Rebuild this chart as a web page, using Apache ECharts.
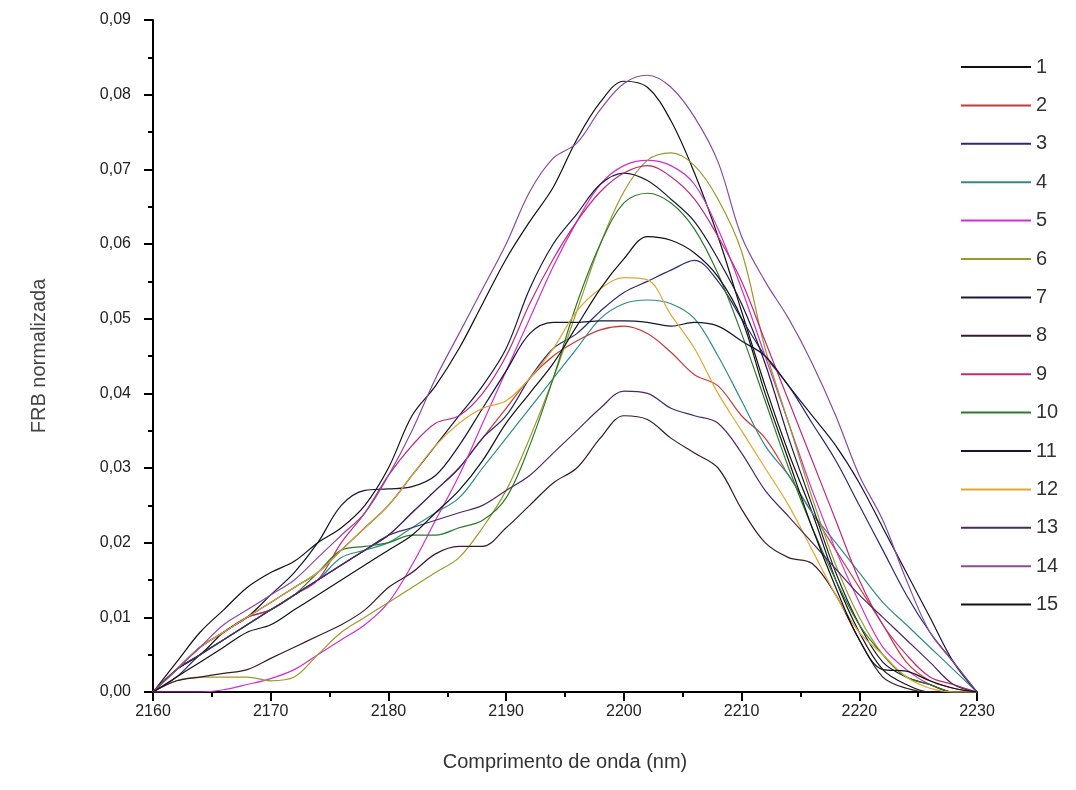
<!DOCTYPE html>
<html>
<head>
<meta charset="utf-8">
<script src="https://cdn.jsdelivr.net/npm/echarts@6/dist/echarts.min.js"></script>
<style>html,body{margin:0;padding:0;background:#fff;}#c{width:1076px;height:790px;}</style>
</head>
<body>
<div id="c"></div>
<script>
// Wavelength (nm), every 2 nm
const wavelengths = [2160,2162,2164,2166,2168,2170,2172,2174,2176,2178,2180,2182,2184,2186,2188,2190,2192,2194,2196,2198,2200,2202,2204,2206,2208,2210,2212,2214,2216,2218,2220,2222,2224,2226,2228,2230];

const seriesNames = ['1','2','3','4','5','6','7','8','9','10','11','12','13','14','15'];

const s1  = [0,.004,.008,.011,.014,.016,.0175,.020,.022,.025,.030,.037,.041,.046,.052,.058,.063,.0676,.074,.079,.0818,.081,.0765,.0695,.061,.051,.041,.032,.024,.015,.008,.003,.001,0,0,0];
const s2  = [0,.003,.006,.008,.010,.011,.013,.015,.017,.019,.021,.024,.027,.030,.034,.038,.042,.045,.047,.0485,.049,.048,.0455,.0425,.041,.037,.034,.029,.024,.019,.014,.009,.004,.0015,.0005,0];
const s3  = [0,.002,.005,.007,.009,.011,.013,.015,.017,.019,.021,.024,.027,.030,.034,.037,.042,.046,.048,.051,.0535,.055,.0565,.0578,.055,.050,.045,.041,.036,.031,.025,.019,.013,.008,.004,0];
const s4  = [0,.003,.005,.007,.009,.011,.013,.015,.018,.019,.020,.022,.024,.026,.030,.034,.038,.042,.046,.050,.052,.0525,.052,.050,.045,.039,.033,.029,.024,.020,.016,.012,.009,.006,.003,0];
const s5  = [0,0,0,.0003,.001,.0018,.003,.005,.007,.009,.012,.017,.023,.029,.036,.043,.050,.057,.063,.068,.0705,.0712,.0705,.068,.062,.054,.045,.036,.027,.019,.012,.006,.003,.001,0,0];
const s6  = [0,.0015,.002,.002,.002,.0015,.002,.005,.008,.010,.012,.014,.016,.018,.022,.027,.034,.042,.051,.060,.067,.0712,.0722,.0705,.066,.059,.046,.036,.026,.017,.010,.005,.002,.001,0,0];
const s7  = [0,.003,.006,.008,.010,.012,.014,.016,.019,.022,.025,.029,.033,.037,.041,.046,.054,.060,.064,.068,.0695,.0685,.066,.063,.058,.052,.044,.034,.025,.016,.009,.004,.002,.001,0,0];
const s8  = [0,.0015,.002,.0025,.003,.0045,.006,.0075,.009,.011,.014,.016,.0185,.0195,.0195,.022,.025,.028,.030,.034,.037,.0365,.034,.032,.030,.0245,.020,.018,.0172,.013,.007,.002,.0005,0,0,0];
const s9  = [0,.003,.006,.008,.010,.011,.013,.015,.020,.024,.029,.033,.036,.037,.040,.045,.052,.058,.063,.067,.0695,.0705,.069,.066,.061,.055,.047,.039,.031,.023,.015,.009,.005,.002,.001,0];
const s10 = [0,.003,.005,.007,.009,.011,.013,.016,.019,.0195,.020,.021,.021,.022,.023,.026,.033,.042,.052,.060,.0655,.0668,.0655,.062,.056,.048,.039,.030,.022,.015,.009,.005,.002,.001,0,0];
const s11 = [0,.003,.005,.008,.010,.013,.016,.020,.025,.027,.0272,.0275,.029,.033,.038,.043,.048,.0495,.0495,.0497,.0497,.0495,.049,.0495,.049,.047,.045,.041,.037,.033,.028,.022,.016,.010,.004,0];
const s12 = [0,.003,.006,.008,.010,.012,.014,.016,.019,.022,.025,.029,.033,.036,.038,.039,.042,.046,.051,.054,.0555,.0552,.0505,.046,.040,.035,.030,.025,.019,.013,.008,.005,.002,.0005,0,0];
const s13 = [0,.003,.005,.007,.009,.011,.013,.015,.017,.019,.021,.022,.023,.024,.025,.027,.029,.032,.035,.038,.0403,.040,.038,.037,.036,.032,.027,.0235,.020,.0165,.013,.010,.007,.004,.001,0];
const s14 = [0,.003,.006,.009,.011,.013,.015,.018,.021,.024,.029,.035,.042,.048,.054,.060,.067,.0715,.0735,.078,.0815,.0826,.081,.077,.071,.061,.055,.050,.044,.037,.029,.023,.015,.008,.004,0];
const s15 = [0,.002,.004,.006,.008,.009,.011,.013,.015,.017,.019,.021,.024,.027,.031,.036,.040,.044,.049,.054,.058,.061,.0605,.0588,.0556,.050,.040,.031,.022,.014,.007,.003,.0028,.0015,.0005,0];

const allValues = [s1,s2,s3,s4,s5,s6,s7,s8,s9,s10,s11,s12,s13,s14,s15];
const colors = ['#111111','#c83a3a','#2a2a7a','#2e8b8b','#d030d0','#9a9a2a','#1a1a3a','#3a1a2a','#c02a7a','#2a7a2a','#151535','#e0a830','#4a2a60','#8a4aa0','#111111'];

const chart = echarts.init(document.getElementById('c'), null, {renderer:'canvas'});
const font = 'Liberation Sans, Arial, sans-serif';

const series = allValues.map((vals, i) => ({
  name: seriesNames[i],
  type: 'line',
  data: wavelengths.map((w, j) => [w, vals[j]]),
  symbol: 'none',
  smooth: 0.35,
  lineStyle: { width: 1.2, color: colors[i] },
  itemStyle: { color: colors[i] },
  z: 2
}));

chart.setOption({
  animation: false,
  backgroundColor: '#ffffff',
  grid: { left: 153, right: 99, top: 20, bottom: 98, containLabel: false },
  legend: {
    orient: 'vertical',
    left: 956,
    top: 52,
    icon: 'rect',
    itemWidth: 70,
    itemHeight: 2,
    itemGap: 18.4,
    textStyle: { fontSize: 20, color: '#333', fontFamily: font },
    data: seriesNames
  },
  xAxis: {
    type: 'value',
    min: 2160, max: 2230, interval: 10,
    name: 'Comprimento de onda (nm)',
    nameLocation: 'middle',
    nameGap: 60,
    nameTextStyle: { fontSize: 20, color: '#333', fontFamily: font },
    axisLine: { show: true, onZero: false, lineStyle: { color: '#000', width: 2 } },
    axisTick: { show: true, inside: false, length: 9, lineStyle: { color: '#000', width: 2 } },
    minorTick: { show: true, splitNumber: 2, length: 5, lineStyle: { color: '#000', width: 2 } },
    axisLabel: { fontSize: 16, color: '#222', margin: 12, fontFamily: font, formatter: v => String(v) },
    splitLine: { show: false }
  },
  yAxis: {
    type: 'value',
    min: 0, max: 0.09, interval: 0.01,
    name: 'FRB normalizada',
    nameLocation: 'middle',
    nameGap: 104,
    nameTextStyle: { fontSize: 20, color: '#444', fontFamily: font },
    axisLine: { show: true, onZero: false, lineStyle: { color: '#000', width: 2 } },
    axisTick: { show: true, inside: false, length: 9, lineStyle: { color: '#000', width: 2 } },
    minorTick: { show: true, splitNumber: 2, length: 5, lineStyle: { color: '#000', width: 2 } },
    axisLabel: { fontSize: 16, color: '#222', margin: 22, fontFamily: font,
      formatter: v => v.toFixed(2).replace('.', ',') },
    splitLine: { show: false }
  },
  series: series
});
</script>
</body>
</html>
